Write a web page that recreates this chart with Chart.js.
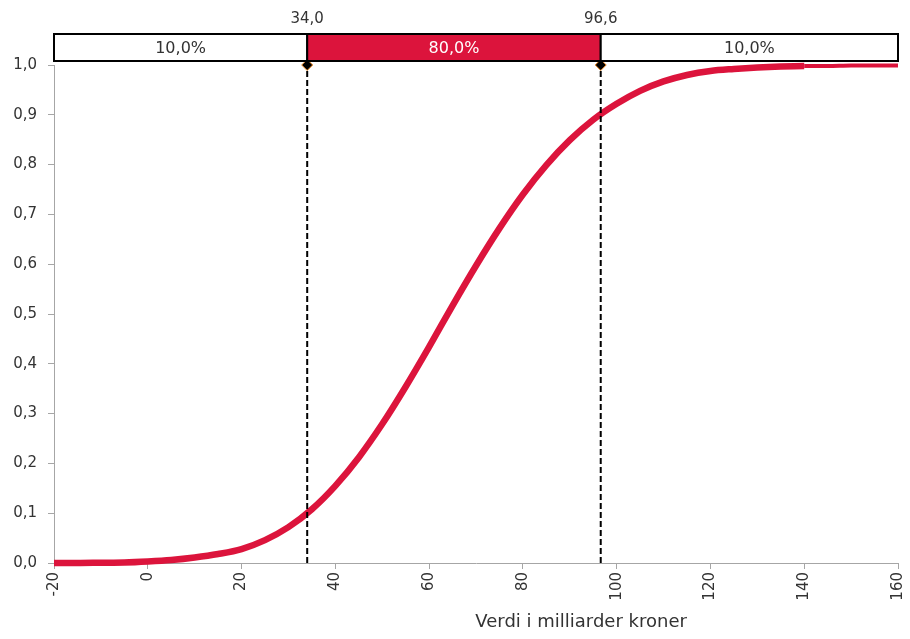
<!DOCTYPE html>
<html><head><meta charset="utf-8">
<script src="https://cdn.jsdelivr.net/npm/chart.js@4/dist/chart.umd.min.js"></script>
<style>html,body{margin:0;padding:0;background:#fff}#wrap{width:910px;height:639px;position:relative}</style>
</head><body><div id="wrap"><canvas id="c" width="910" height="639"></canvas></div>
<script>
// Values (in milliarder kroner) and cumulative probability
const xValues = [-20,-15,-10,-5,0,5,10,15,20,25,30,35,40,45,50,55,60,65,70,75,80,85,90,95,100,105,110,115,120,125,130,135,140,145,150,155,160];
const cumulative = [0,0,0.0005,0.001,0.003,0.006,0.011,0.018,0.028,0.046,0.072,0.108,0.155,0.212,0.279,0.354,0.434,0.517,0.597,0.672,0.740,0.799,0.849,0.890,0.922,0.948,0.967,0.980,0.988,0.992,0.995,0.997,0.998,0.998,0.999,0.999,0.999];
// Percentile markers
const percentileValues = [34.0, 96.6];
const percentileLabels = ['34,0', '96,6'];
// Share of probability in each band segment
const bandShares = ['10,0%', '80,0%', '10,0%'];
const axisTitle = 'Verdi i milliarder kroner';

const CRIMSON = '#DC143C';
const TEXT = '#333333';
const AXIS = '#a6a6a6';
Chart.defaults.font.family = "'DejaVu Sans', sans-serif";
Chart.defaults.font.size = 15;
Chart.defaults.color = TEXT;

const fmt1 = v => v.toFixed(1).replace('.', ',');

const bandPlugin = {
  id: 'band',
  afterDraw(chart) {
    const {ctx, chartArea, scales} = chart;
    const x = scales.x;
    const top = 34, bottom = 61;
    const edges = [x.min, ...percentileValues, x.max].map(v => x.getPixelForValue(v));
    ctx.save();
    for (let i = 0; i < 3; i++) {
      const l = edges[i], r = edges[i + 1];
      ctx.fillStyle = i === 1 ? CRIMSON : '#ffffff';
      ctx.fillRect(l, top, r - l, bottom - top);
      ctx.lineWidth = 2;
      ctx.strokeStyle = '#000';
      ctx.strokeRect(l, top, r - l, bottom - top);
      ctx.fillStyle = i === 1 ? '#ffffff' : TEXT;
      ctx.font = "16px 'DejaVu Sans', sans-serif";
      ctx.textAlign = 'center';
      ctx.textBaseline = 'middle';
      ctx.fillText(bandShares[i], (l + r) / 2, (top + bottom) / 2 + 1);
    }
    ctx.fillStyle = TEXT;
    ctx.font = "15px 'DejaVu Sans', sans-serif";
    percentileValues.forEach((v, i) => {
      ctx.fillText(percentileLabels[i], x.getPixelForValue(v), 19);
    });
    // axis title
    ctx.font = "18px 'DejaVu Sans', sans-serif";
    ctx.fillText(axisTitle, chartArea.left + 0.6245 * (chartArea.right - chartArea.left), 622);
    ctx.restore();
  }
};

new Chart(document.getElementById('c').getContext('2d'), {
  type: 'scatter',
  data: {
    datasets: [
      {
        label: 'markers',
        data: percentileValues.map(v => ({x: v, y: 1})),
        pointStyle: 'rectRot', pointRadius: 5.5,
        backgroundColor: '#000', borderColor: '#f08a24', borderWidth: 1,
        showLine: false, order: 0, clip: false
      },
      {
        label: 'p10',
        data: [{x: percentileValues[0], y: 0}, {x: percentileValues[0], y: 1}],
        showLine: true, borderColor: '#000', borderWidth: 2, borderDash: [6, 3],
        pointRadius: 0, order: 1, clip: false
      },
      {
        label: 'p90',
        data: [{x: percentileValues[1], y: 0}, {x: percentileValues[1], y: 1}],
        showLine: true, borderColor: '#000', borderWidth: 2, borderDash: [6, 3],
        pointRadius: 0, order: 1, clip: false
      },
      {
        label: 'CDF',
        data: xValues.map((x, i) => ({x, y: cumulative[i]})),
        showLine: true, borderColor: CRIMSON, borderWidth: 6.5,
        pointRadius: 0, cubicInterpolationMode: 'monotone', order: 2, clip: false,
        segment: { borderWidth: c => (c.p0.parsed.x >= 140 ? 4 : 6.5) }
      }
    ]
  },
  options: {
    responsive: false,
    animation: false,
    layout: { padding: { top: 65, right: 12, left: 0, bottom: 0 } },
    plugins: { legend: { display: false }, tooltip: { enabled: false } },
    scales: {
      x: {
        type: 'linear', position: 'bottom', min: -20, max: 160,
        grid: { display: true, drawOnChartArea: false, drawTicks: true, tickLength: 6, color: AXIS },
        border: { display: true, color: AXIS, width: 1 },
        ticks: { stepSize: 20, minRotation: 90, maxRotation: 90, autoSkip: false, padding: 3, color: TEXT,
                 callback: v => String(v) },
        afterFit: s => { s.height = 76; s.paddingLeft = 0; s.paddingRight = 0; }
      },
      y: {
        type: 'linear', min: 0, max: 1,
        grid: { display: true, drawOnChartArea: false, drawTicks: true, tickLength: 6, color: AXIS },
        border: { display: true, color: AXIS, width: 1 },
        ticks: { stepSize: 0.1, padding: 11, color: TEXT, callback: v => fmt1(v) },
        afterFit: s => { s.width = 54; }
      }
    }
  },
  plugins: [bandPlugin]
});
</script>
</body></html>
